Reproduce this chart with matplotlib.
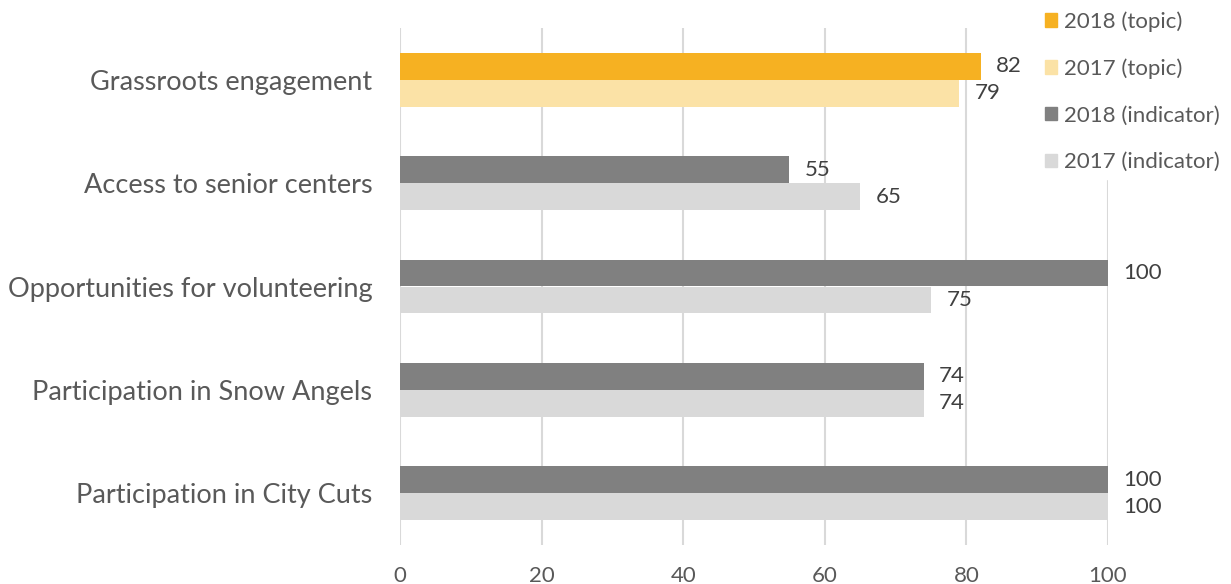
import numpy as np
import matplotlib.pyplot as plt
from matplotlib.patches import Patch

plt.rcParams['font.family'] = ['Lato', 'DejaVu Sans']

categories = ['Grassroots engagement', 'Access to senior centers',
              'Opportunities for volunteering', 'Participation in Snow Angels',
              'Participation in City Cuts']
topic_2018 = [82, None, None, None, None]
topic_2017 = [79, None, None, None, None]
ind_2018 = [None, 55, 100, 74, 100]
ind_2017 = [None, 65, 75, 74, 100]
x_ticks = [0, 20, 40, 60, 80, 100]

c_t18 = '#F6B122'
c_t17 = '#FBE2A6'
c_i18 = '#808080'
c_i17 = '#D9D9D9'
txt = '#595959'

fig = plt.figure(figsize=(12.31, 5.84), dpi=100)
ax = fig.add_axes([400 / 1231, 1 - 545 / 584, 708 / 1231, 517 / 584])

h = 0.26
y = np.arange(len(categories))


def draw(vals, offset, color):
    for i, v in enumerate(vals):
        if v is None:
            continue
        ax.barh(y[i] + offset, v, height=h, color=color, zorder=2)
        ax.annotate(f'{v:g}', (v, y[i] + offset), xytext=(11, 0),
                    textcoords='offset points', va='center', ha='left',
                    fontsize=16, color='#404040')


draw(topic_2018, -h / 2, c_t18)
draw(topic_2017, h / 2, c_t17)
draw(ind_2018, -h / 2, c_i18)
draw(ind_2017, h / 2, c_i17)

ax.set_xlim(0, 100)
ax.set_ylim(len(categories) - 0.5, -0.5)
ax.set_xticks(x_ticks)
ax.set_yticks(y)
ax.set_yticklabels(categories)
ax.grid(axis='x', color='#D9D9D9', linewidth=1.5, zorder=0)
ax.set_axisbelow(True)
for s in ax.spines.values():
    s.set_visible(False)
ax.tick_params(axis='x', length=0, pad=15, labelsize=16, labelcolor=txt)
ax.tick_params(axis='y', length=0, pad=20, labelsize=19.5, labelcolor=txt)

handles = [Patch(color=c_t18, label='2018 (topic)'),
           Patch(color=c_t17, label='2017 (topic)'),
           Patch(color=c_i18, label='2018 (indicator)'),
           Patch(color=c_i17, label='2017 (indicator)')]
leg = fig.legend(handles=handles, loc='upper right', bbox_to_anchor=(1.0, 1.0),
                 frameon=True, framealpha=1, edgecolor='white', fontsize=16,
                 handlelength=0.55, handleheight=0.55, handletextpad=0.3,
                 labelspacing=1.2, borderpad=0.3, borderaxespad=0.2,
                 labelcolor=txt)
leg.set_zorder(5)

fig.savefig('out.png', dpi=100)
